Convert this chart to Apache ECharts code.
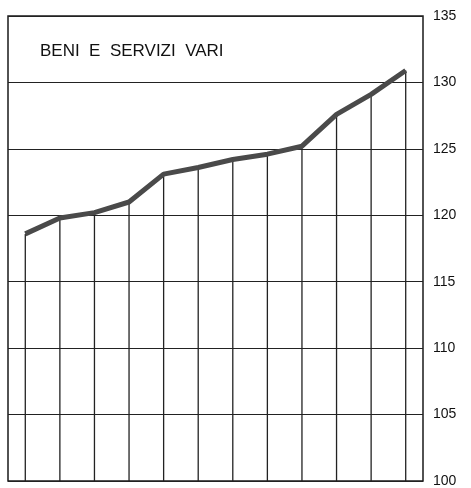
<!DOCTYPE html>
<html>
<head>
<meta charset="utf-8">
<script src="https://cdn.jsdelivr.net/npm/echarts@6/dist/echarts.min.js"></script>
<style>
  html, body { margin: 0; padding: 0; background: #fff; }
  #chart { width: 471px; height: 488px; }
</style>
</head>
<body>
<div id="chart"></div>
<script>
// mesi (12 punti)
var mesi = ['Gen', 'Feb', 'Mar', 'Apr', 'Mag', 'Giu', 'Lug', 'Ago', 'Set', 'Ott', 'Nov', 'Dic'];
// indice beni e servizi vari
var indice = [118.6, 119.8, 120.2, 121.0, 123.1, 123.6, 124.2, 124.6, 125.2, 127.6, 129.1, 130.9];
// scala asse y
var yMin = 100, yMax = 135, yStep = 5;

var chart = echarts.init(document.getElementById('chart'));
chart.setOption({
  animation: false,
  backgroundColor: '#fff',
  title: {
    text: 'BENI  E  SERVIZI  VARI',
    left: 40,
    top: 43,
    padding: 0,
    textStyle: {
      fontFamily: 'Liberation Sans',
      fontSize: 17,
      fontWeight: 'normal',
      color: '#111'
    }
  },
  grid: {
    left: 8,
    right: 48,
    top: 16,
    bottom: 7,
    show: true,
    borderColor: '#1a1a1a',
    borderWidth: 1.5,
    backgroundColor: 'transparent'
  },
  xAxis: {
    type: 'category',
    data: mesi,
    boundaryGap: true,
    axisLine: { show: false },
    axisTick: { show: false },
    axisLabel: { show: false },
    splitLine: { show: false }
  },
  yAxis: {
    type: 'value',
    position: 'right',
    min: yMin,
    max: yMax,
    interval: yStep,
    axisLine: { show: false },
    axisTick: { show: false },
    axisLabel: {
      margin: 10,
      fontFamily: 'Liberation Sans',
      fontSize: 14,
      color: '#111'
    },
    splitLine: {
      show: true,
      lineStyle: { color: '#222', width: 1 }
    }
  },
  series: [{
    // linee verticali fino alla curva
    type: 'bar',
    data: indice,
    barWidth: 1.3,
    itemStyle: { color: '#222' },
    silent: true,
    z: 2
  }, {
    type: 'line',
    data: indice,
    symbol: 'none',
    lineStyle: { color: '#4a4a4a', width: 5 },
    z: 3
  }]
});
</script>
</body>
</html>
